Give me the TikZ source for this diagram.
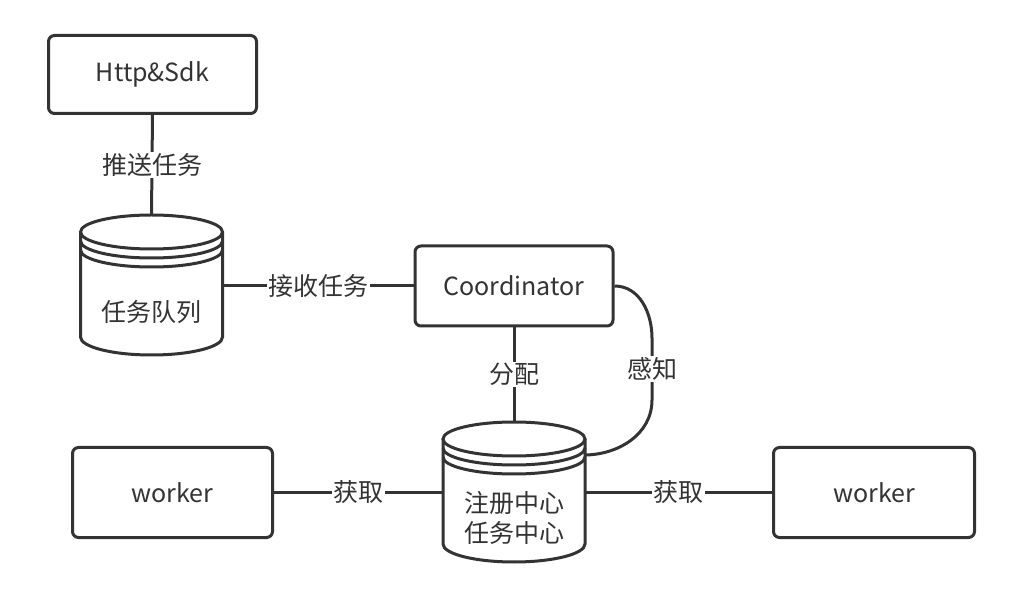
\documentclass[tikz,border=0pt]{standalone}
\usepackage{fontspec}
\setmainfont{Noto Sans CJK SC}
\definecolor{ink}{HTML}{333333}
\begin{document}
\begin{tikzpicture}[x=1pt,y=1pt,
  every node/.style={text=ink},
  boxnode/.style={draw=ink, line width=3pt, rounded corners=6pt, fill=white,
    font=\fontsize{25}{29}\selectfont},
  cylnode/.style={minimum width=142pt, minimum height=140pt, inner sep=0pt},
  cyltext/.style={font=\fontsize{25}{30}\selectfont, align=center},
  conn/.style={draw=ink, line width=3pt},
  lbl/.style={fill=white, inner sep=1.5pt, font=\fontsize{25}{29}\selectfont},
  dbcyl/.pic={
    \path[fill=white] (-71,53) -- (-71,-52) arc[start angle=180,end angle=360,x radius=71,y radius=18]
      -- (71,53) arc[start angle=0,end angle=180,x radius=71,y radius=17] -- cycle;
    \draw[ink, line width=3pt] (-71,53) -- (-71,-52) arc[start angle=180,end angle=360,x radius=71,y radius=18] -- (71,53);
    \draw[ink, line width=3pt] (0,53) ellipse[x radius=71,y radius=17];
    \draw[ink, line width=3pt] (-71,44) arc[start angle=180,end angle=360,x radius=71,y radius=17];
    \draw[ink, line width=3pt] (-71,35) arc[start angle=180,end angle=360,x radius=71,y radius=17];
  }]
\useasboundingbox[fill=white] (0,0) rectangle (1036,600);

% nodes
\node[boxnode, minimum width=208pt, minimum height=78pt] (http) at (152.5,525.5) {Http\&Sdk};
\node[cylnode] (queue) at (151.5,315) {};
\pic at (queue.center) {dbcyl};
\node[cyltext] (queuetxt) at (151.5,288) {任务队列};

\node[boxnode, minimum width=198pt, minimum height=80pt] (coord) at (514,314) {Coordinator};

\node[cylnode] (reg) at (514,108) {};
\pic at (reg.center) {dbcyl};
\node[cyltext] (regtxt) at (514,82) {注册中心\\任务中心};

\node[boxnode, minimum width=200pt, minimum height=90pt] (w1) at (172.5,107.5) {worker};
\node[boxnode, minimum width=201pt, minimum height=90pt] (w2) at (874,107.5) {worker};

\coordinate (k1) at (652,262);
\coordinate (k2) at (652,200);
\coordinate (regk) at (584,145);

% connectors
\draw[conn] (http.south) -- node[lbl] {推送任务} (queue.north);
\draw[conn] (queue.east |- coord.west) -- node[lbl] {接收任务} (coord.west);
\draw[conn] (coord.south) -- node[lbl] {分配} (reg.north);
\draw[conn] (coord.east) to[out=0,in=90] (k1) -- node[lbl] {感知} (k2) to[out=-90,in=0] (regk);
\draw[conn] (w1.east) -- node[lbl] {获取} (reg.west |- w1.east);
\draw[conn] (reg.east |- w2.west) -- node[lbl] {获取} (w2.west);
\end{tikzpicture}
\end{document}
